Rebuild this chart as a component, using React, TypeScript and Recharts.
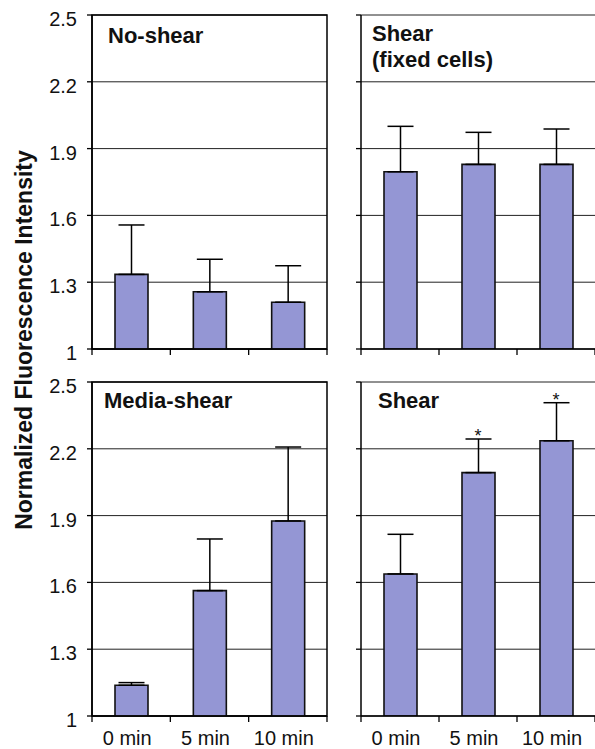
import React from 'react';
import {
    ComposedChart,
    Bar,
    ErrorBar,
    Scatter,
    XAxis,
    YAxis,
    CartesianGrid,
    ReferenceArea,
} from 'recharts';

const FONT = "'Liberation Sans', Arial, Helvetica, sans-serif";

const times = ['0 min', '5 min', '10 min'];
const yTicks = [1, 1.3, 1.6, 1.9, 2.2, 2.5];

const noShear = [1.335, 1.257, 1.21];
const noShearErr = [0.222, 0.146, 0.164];
const fixedShear = [1.796, 1.829, 1.829];
const fixedShearErr = [0.204, 0.144, 0.159];
const mediaShear = [1.138, 1.563, 1.876];
const mediaShearErr = [0.012, 0.232, 0.332];
const shear = [1.638, 2.093, 2.236];
const shearErr = [0.178, 0.151, 0.171];
const shearStars = [false, true, true];

const buildRows = (values: number[], errs: number[], stars?: boolean[]) =>
    times.map((t, i) => ({
        time: t,
        value: values[i],
        err: [0, errs[i]],
        star: stars && stars[i] ? values[i] + errs[i] : null,
    }));

const Y_AXIS_W = 92;

const YTick = (props: any) => {
    const { x, y, payload, show } = props;
    if (!show) return <g />;
    return (
        <text x={x} y={y + 11} textAnchor="end" fontSize={20} fontFamily={FONT} fill="#111">
            {payload.value}
        </text>
    );
};

const XTick = (props: any) => {
    const { x, y, payload, index, show, half } = props;
    const last = index === times.length - 1;
    return (
        <g>
            <line x1={x - half} x2={x - half} y1={y} y2={y + 6} stroke="#000" strokeWidth={1.3} />
            {last && <line x1={x + half} x2={x + half} y1={y} y2={y + 6} stroke="#000" strokeWidth={1.3} />}
            {show && (
                <text x={x - 4} y={y + 29} textAnchor="middle" fontSize={20} fontFamily={FONT} fill="#111">
                    {payload.value}
                </text>
            )}
        </g>
    );
};

const StarShape = (props: any) => {
    const { cx, cy, payload } = props;
    if (payload == null || payload.star == null || cy == null || isNaN(cy)) return <g />;
    return (
        <text x={cx} y={cy + 3} textAnchor="middle" fontSize={18} fontFamily={FONT} fill="#111">
            *
        </text>
    );
};

interface PanelProps {
    left: number;
    top: number;
    width: number;
    height: number;
    marginRight: number;
    xAxisHeight: number;
    showY: boolean;
    showX: boolean;
    border: boolean;
    data: any[];
    stars?: boolean;
}

const Panel = ({ left, top, width, height, marginRight, xAxisHeight, showY, showX, border, data, stars }: PanelProps) => {
    const half = (width - Y_AXIS_W - marginRight) / times.length / 2;
    return (
        <div style={{ position: 'absolute', left, top, width, height }}>
            <ComposedChart
                width={width}
                height={height}
                data={data}
                margin={{ top: 15, right: marginRight, bottom: 0, left: 0 }}
            >
                <CartesianGrid vertical={false} stroke="#222" strokeWidth={1} />
                <XAxis
                    dataKey="time"
                    height={xAxisHeight}
                    axisLine={{ stroke: '#000', strokeWidth: 1.5 }}
                    tickLine={false}
                    tickSize={0}
                    tickMargin={0}
                    interval={0}
                    tick={(p: any) => <XTick {...p} show={showX} half={half} />}
                />
                <YAxis
                    type="number"
                    domain={[1, 2.5]}
                    ticks={yTicks}
                    allowDataOverflow
                    width={Y_AXIS_W}
                    axisLine={{ stroke: '#000', strokeWidth: 1.5 }}
                    tickLine={{ stroke: '#000', strokeWidth: 1.3 }}
                    tickSize={5}
                    tickMargin={10}
                    interval={0}
                    tick={(p: any) => <YTick {...p} show={showY} />}
                />
                {border && <ReferenceArea y1={1} y2={2.5} fill="none" stroke="#000" strokeWidth={1.5} ifOverflow="visible" />}
                <Bar dataKey="value" fill="#9496D4" stroke="#111" strokeWidth={1.6} barSize={33} isAnimationActive={false}>
                    <ErrorBar dataKey="err" direction="y" width={13} stroke="#000" strokeWidth={1.5} />
                </Bar>
                {stars && <Scatter dataKey="star" shape={StarShape} isAnimationActive={false} />}
            </ComposedChart>
        </div>
    );
};

export default function App() {
    return (
        <div style={{ position: 'absolute', left: 0, top: 0, width: 595, height: 749, background: '#fff', overflow: 'hidden' }}>
            <Panel left={0} top={0} width={330} height={367} marginRight={3} xAxisHeight={18}
                showY showX={false} border data={buildRows(noShear, noShearErr)} />
            <Panel left={269} top={0} width={326} height={367} marginRight={0} xAxisHeight={18}
                showY={false} showX={false} border={false} data={buildRows(fixedShear, fixedShearErr)} />
            <Panel left={0} top={367} width={330} height={382} marginRight={3} xAxisHeight={33}
                showY showX border data={buildRows(mediaShear, mediaShearErr)} />
            <Panel left={269} top={367} width={326} height={382} marginRight={0} xAxisHeight={33}
                showY={false} showX border={false} data={buildRows(shear, shearErr, shearStars)} stars />
            <svg width={595} height={749} style={{ position: 'absolute', left: 0, top: 0, pointerEvents: 'none' }}>
                <text
                    transform="translate(32, 340) rotate(-90)"
                    textAnchor="middle"
                    fontSize={23}
                    fontWeight="bold"
                    fontFamily={FONT}
                    fill="#111"
                >
                    Normalized Fluorescence Intensity
                </text>
                <g fontSize={22} fontWeight="bold" fontFamily={FONT} fill="#111">
                    <text x={108} y={43}>No-shear</text>
                    <text x={372} y={41}>Shear</text>
                    <text x={372} y={67}>(fixed cells)</text>
                    <text x={104} y={408}>Media-shear</text>
                    <text x={378} y={408}>Shear</text>
                </g>
            </svg>
        </div>
    );
}
